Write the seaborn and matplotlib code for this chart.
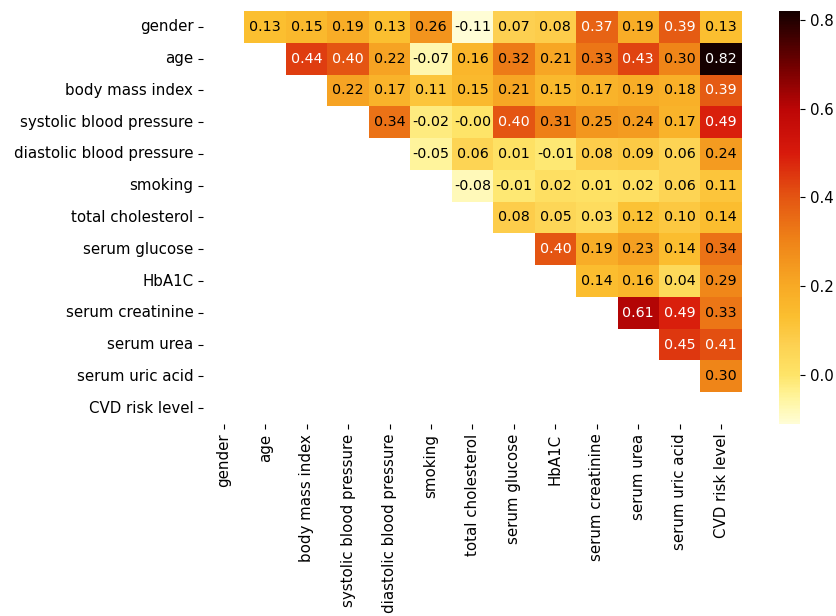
import numpy as np
import pandas as pd
import matplotlib
matplotlib.use("Agg")
import matplotlib.pyplot as plt
from matplotlib.colors import LinearSegmentedColormap
import seaborn as sns

features = [
    "gender", "age", "body mass index", "systolic blood pressure",
    "diastolic blood pressure", "smoking", "total cholesterol",
    "serum glucose", "HbA1C", "serum creatinine", "serum urea",
    "serum uric acid", "CVD risk level",
]

# Upper-triangle correlations, one list per row (values to the right of the diagonal)
r_gender = [0.13, 0.15, 0.19, 0.13, 0.26, -0.11, 0.07, 0.08, 0.37, 0.19, 0.39, 0.13]
r_age = [0.44, 0.40, 0.22, -0.07, 0.16, 0.32, 0.21, 0.33, 0.43, 0.30, 0.82]
r_bmi = [0.22, 0.17, 0.11, 0.15, 0.21, 0.15, 0.17, 0.19, 0.18, 0.39]
r_sbp = [0.34, -0.02, -0.0, 0.40, 0.31, 0.25, 0.24, 0.17, 0.49]
r_dbp = [-0.05, 0.06, 0.01, -0.01, 0.08, 0.09, 0.06, 0.24]
r_smoking = [-0.08, -0.01, 0.02, 0.01, 0.02, 0.06, 0.11]
r_chol = [0.08, 0.05, 0.03, 0.12, 0.10, 0.14]
r_glucose = [0.40, 0.19, 0.23, 0.14, 0.34]
r_hba1c = [0.14, 0.16, 0.04, 0.29]
r_creat = [0.61, 0.49, 0.33]
r_urea = [0.45, 0.41]
r_uric = [0.30]

upper_rows = [r_gender, r_age, r_bmi, r_sbp, r_dbp, r_smoking, r_chol,
              r_glucose, r_hba1c, r_creat, r_urea, r_uric]

# Build the symmetric correlation matrix
n = len(features)
corr = np.eye(n)
for i, row in enumerate(upper_rows):
    for k, v in enumerate(row):
        j = i + 1 + k
        corr[i, j] = v
        corr[j, i] = v
corr_df = pd.DataFrame(corr, index=features, columns=features)

# Hide the diagonal and lower triangle
mask = np.tril(np.ones_like(corr, dtype=bool))

heat_cmap = LinearSegmentedColormap.from_list(
    "heat",
    [
        (0.000, "#fffdd5"),
        (0.065, "#fff49a"),
        (0.118, "#fee468"),
        (0.194, "#fdd050"),
        (0.258, "#fbbf30"),
        (0.333, "#f8aa25"),
        (0.441, "#ef8418"),
        (0.548, "#e45612"),
        (0.656, "#d81a0c"),
        (0.763, "#bc0606"),
        (0.871, "#700000"),
        (1.000, "#150000"),
    ],
)

fig = plt.figure(figsize=(8.36, 6.16), dpi=100)
ax = fig.add_axes([0.2428, 0.3117, 0.6447, 0.6705])
cax = fig.add_axes([0.9318, 0.3117, 0.0251, 0.6705])

sns.heatmap(
    corr_df, mask=mask, cmap=heat_cmap, annot=True, fmt=".2f",
    annot_kws={"fontsize": 10.3}, ax=ax, cbar_ax=cax,
)

# Light labels on the darker cells
for t in ax.texts:
    val = float(t.get_text())
    t.set_color("white" if val >= 0.35 else "black")

ax.tick_params(axis="both", labelsize=10.8, length=3.5)
ax.set_xticklabels(features, rotation=90)
ax.set_yticklabels(features, rotation=0)
cax.tick_params(labelsize=10.8, length=3.5)
for s in cax.spines.values():
    s.set_visible(False)

fig.savefig("out.png", dpi=100)
